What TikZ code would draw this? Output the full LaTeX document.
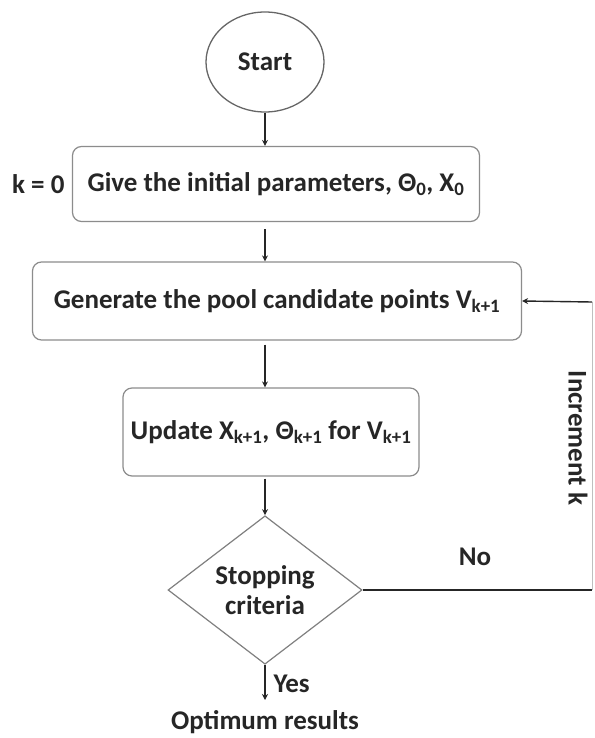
\documentclass[tikz,border=0pt]{standalone}
\usepackage{fontspec}
\setmainfont{Carlito}
\usetikzlibrary{shapes.geometric,arrows.meta}
\begin{document}
\begin{tikzpicture}[x=1pt,y=-1pt,
  every node/.style={font=\bfseries\fontsize{27}{30}\selectfont, text=black!85},
  procbox/.style={draw=black!45, line width=1.2pt, rounded corners=9pt, inner sep=0pt},
  flow/.style={draw=black!85, line width=1.4pt, -{Stealth[length=6pt,width=6pt]}},
  plain/.style={draw=black!85, line width=1.4pt},
  faint/.style={draw=black!25, line width=1pt}]
  \useasboundingbox (0,0) rectangle (594,738);
  \fill[white] (0,0) rectangle (594,738);

  % start terminal
  \node[ellipse, draw=black!60, line width=1.3pt, minimum width=118pt, minimum height=100pt, inner sep=0pt] (start) at (265,62) {Start};

  % process boxes
  \node[procbox, minimum width=407pt, minimum height=75pt] (init) at (276,184) {Give the initial parameters, Θ\textsubscript{0}, X\textsubscript{0}};
  \node[anchor=east] (k0) at (68,184) {k = 0};
  \node[procbox, minimum width=489pt, minimum height=78pt] (gen) at (277,301) {Generate the pool candidate points V\textsubscript{k+1}};
  \node[procbox, minimum width=296pt, minimum height=88pt] (upd) at (271,432) {Update X\textsubscript{k+1}, Θ\textsubscript{k+1} for V\textsubscript{k+1}};

  % decision
  \node[diamond, draw=black!50, line width=1.2pt, minimum width=194pt, minimum height=145pt, inner sep=0pt, align=center] (stop) at (265,590) {Stopping\\criteria};

  % result
  \node (opt) at (265,722) {Optimum results};
  \coordinate (yesend) at (265,700);

  % loop-back corner points
  \coordinate (rb) at (592,590);
  \coordinate (rt) at (592,302);

  % main flow, all on the centre line of the start ellipse
  \draw[flow] (start.south) -- (start.south |- init.north);
  \draw[flow] ([yshift=-7pt]start.south |- init.south) -- (start.south |- gen.north);
  \draw[flow] ([yshift=-4pt]start.south |- gen.south) -- (start.south |- upd.north);
  \draw[flow] ([yshift=-2pt]start.south |- upd.south) -- (stop.north);
  \draw[flow] (stop.south) -- (yesend);
  \node[anchor=west] (yes) at (270,684) {Yes};

  % loop back
  \draw[plain] (stop.east) -- (rb);
  \node (no) at (475,557) {No};
  \draw[faint] (rb) -- (rt);
  \draw[flow] (rt) -- (gen.east);
  \node[rotate=-90] (inc) at (578,438) {Increment k};
\end{tikzpicture}
\end{document}
